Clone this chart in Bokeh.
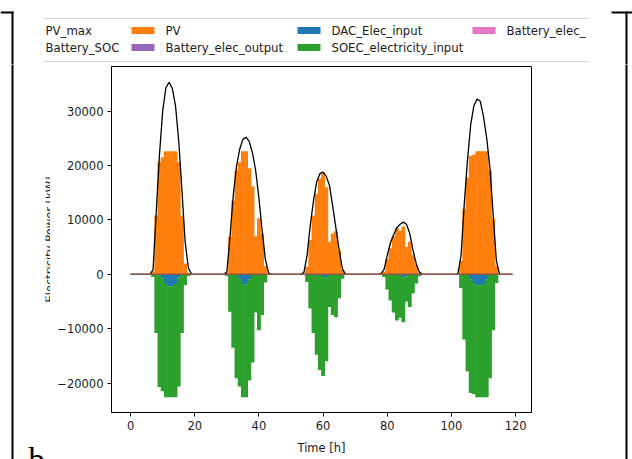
import math
import numpy as np
from bokeh.plotting import figure
from bokeh.layouts import column, row
from bokeh.models import FixedTicker, CustomJSTickFormatter, Range1d, ColumnDataSource
from bokeh.core.properties import value
from bokeh.embed import file_html
from bokeh.resources import INLINE

# ---- hourly data, 5 days (hours 0..119), values in kW ----
hours = list(range(120))

pv_max = (
    [0, 0, 0, 0, 0, 0, 0, 800, 11500, 22000, 30000, 34300, 35300, 34200, 31000, 24500, 15500, 6000, 1200, 0, 0, 0, 0, 0]
    + [0, 0, 0, 0, 0, 0, 400, 7000, 14500, 19800, 23000, 24800, 25200, 24400, 22300, 19000, 14000, 8000, 2800, 200, 0, 0, 0, 0]
    + [0, 0, 0, 0, 0, 0, 300, 3500, 9000, 13500, 17000, 18500, 18800, 18000, 16300, 12500, 8500, 4500, 1000, 0, 0, 0, 0, 0]
    + [0, 0, 0, 0, 0, 0, 100, 900, 3500, 5800, 7300, 8600, 9200, 9600, 9200, 7500, 4500, 2000, 400, 0, 0, 0, 0, 0]
    + [0, 0, 0, 0, 0, 0, 100, 3500, 13000, 21000, 27500, 31000, 32200, 31800, 29000, 25000, 19500, 11000, 2500, 0, 0, 0, 0, 0]
)

pv = (
    [0, 0, 0, 0, 0, 0, 0, 500, 10800, 20700, 21500, 22600, 22600, 22600, 22600, 20600, 10800, 2000, 300, 0, 0, 0, 0, 0]
    + [0, 0, 0, 0, 0, 0, 300, 6900, 13500, 19100, 20600, 22600, 22600, 19500, 16200, 7000, 10300, 7500, 1500, 0, 0, 0, 0, 0]
    + [0, 0, 0, 0, 0, 0, 100, 1400, 6300, 10800, 14800, 17600, 18700, 16000, 6000, 7500, 7900, 4400, 800, 0, 0, 0, 0, 0]
    + [0, 0, 0, 0, 0, 0, 0, 500, 2800, 4800, 7000, 8500, 8000, 8800, 5000, 6000, 3500, 1700, 300, 0, 0, 0, 0, 0]
    + [0, 0, 0, 0, 0, 0, 0, 2500, 12000, 17800, 21800, 22000, 22600, 22600, 22600, 22600, 19100, 10300, 1600, 0, 0, 0, 0, 0]
)

dac_elec_input = (
    [0, 0, 0, 0, 0, 0, 0, 0, 0, 0, 800, 1800, 2200, 2200, 1800, 600, 0, 0, 0, 0, 0, 0, 0, 0]
    + [0, 0, 0, 0, 0, 0, 0, 0, 0, 0, 800, 1800, 1900, 900, 0, 0, 0, 0, 0, 0, 0, 0, 0, 0]
    + [0, 0, 0, 0, 0, 0, 0, 0, 0, 0, 0, 0, 300, 700, 0, 0, 0, 0, 0, 0, 0, 0, 0, 0]
    + [0, 0, 0, 0, 0, 0, 0, 0, 0, 0, 0, 0, 0, 600, 400, 0, 0, 0, 0, 0, 0, 0, 0, 0]
    + [0, 0, 0, 0, 0, 0, 0, 0, 0, 0, 900, 1600, 2000, 2000, 1800, 1000, 0, 0, 0, 0, 0, 0, 0, 0]
)

soec_elec_input = (
    [0, 0, 0, 0, 0, 0, 0, 500, 10800, 20700, 20700, 20800, 20400, 20400, 20800, 20000, 10800, 2000, 300, 0, 0, 0, 0, 0]
    + [0, 0, 0, 0, 0, 0, 300, 6900, 13500, 19100, 19800, 20800, 20700, 18600, 16200, 7000, 10300, 7500, 1500, 0, 0, 0, 0, 0]
    + [0, 0, 0, 0, 0, 0, 100, 1400, 6300, 10800, 14800, 17600, 18400, 15300, 6000, 7500, 7900, 4400, 800, 0, 0, 0, 0, 0]
    + [0, 0, 0, 0, 0, 0, 0, 500, 2800, 4800, 7000, 8500, 8000, 8200, 4600, 6000, 3500, 1700, 300, 0, 0, 0, 0, 0]
    + [0, 0, 0, 0, 0, 0, 0, 2500, 12000, 17800, 20900, 20400, 20600, 20600, 20800, 21600, 19100, 10300, 1600, 0, 0, 0, 0, 0]
)

battery_elec_input = [0] * 120
battery_elec_output = [0] * 120
battery_soc = [0] * 120

y_ticks = [-20000, -10000, 0, 10000, 20000, 30000]
x_ticks = [0, 20, 40, 60, 80, 100, 120]

legend_labels = ["PV_max", "Battery_SOC", "PV", "Battery_elec_output",
                 "DAC_Elec_input", "SOEC_electricity_input", "Battery_elec_"]

ORANGE, BLUE, GREEN = "#ff7f0e", "#1f77b4", "#2ca02c"
PURPLE, PINK, BROWN = "#9467bd", "#e377c2", "#8c564b"
TXT = "#1c1c1c"
FONT = "DejaVu Sans"

# page geometry (pixels): legend strip on top, then margin | chart | margin
W, H = 632, 459
TOP_H = 64
LEFT_W, RIGHT_W = 50, 12
MAIN_W = W - LEFT_W - RIGHT_W
ROW_H = H - TOP_H
F_LEFT, F_RIGHT, F_TOP, F_BOTTOM = 111, 531, 66, 412   # chart frame on the page


def no_frame_align(f):
    # keep each figure's own frame instead of lining frames up across the layout
    try:
        f.frame_align = False
    except AttributeError:
        pass


def pixel_fig(x_lo, x_hi, y_lo, y_hi):
    """A blank figure whose data units are page pixels (y grows downwards)."""
    f = figure(width=x_hi - x_lo, height=y_hi - y_lo, output_backend="svg",
               toolbar_location=None, x_range=Range1d(x_lo, x_hi),
               y_range=Range1d(y_hi, y_lo), x_axis_type=None, y_axis_type=None,
               min_border=0, min_border_left=0, min_border_right=0,
               min_border_top=0, min_border_bottom=0, title=None)
    f.outline_line_color = None
    f.background_fill_color = "white"
    f.border_fill_color = "white"
    f.grid.visible = False
    no_frame_align(f)
    return f


# ---------------- main chart ----------------
dac = np.array(dac_elec_input, dtype=float)
soec = np.array(soec_elec_input, dtype=float)
src = ColumnDataSource(dict(
    t=hours,
    pv=pv,
    dac_top=np.zeros(120), dac_bot=-dac,
    soec_top=-dac, soec_bot=-dac - soec,
    bat_in_top=-dac - soec, bat_in_bot=-dac - soec - np.array(battery_elec_input),
    bat_out=battery_elec_output,
    pv_max=pv_max, soc=battery_soc,
))

p = figure(width=MAIN_W, height=ROW_H, output_backend="svg", toolbar_location=None,
           x_range=Range1d(-5.95, 124.95), y_range=Range1d(-25400, 38200),
           min_border_left=F_LEFT - LEFT_W, min_border_right=LEFT_W + MAIN_W - F_RIGHT,
           min_border_top=F_TOP - TOP_H, min_border_bottom=H - F_BOTTOM, title=None)
no_frame_align(p)
p.background_fill_color = "white"
p.border_fill_color = "white"
p.outline_line_color = "black"
p.outline_line_width = 1
p.xgrid.visible = False
p.ygrid.visible = False

BW = 1.2
p.vbar(x="t", width=BW, bottom=0, top="pv", source=src, fill_color=ORANGE, line_color=None)
p.vbar(x="t", width=BW, bottom="bat_out", top="bat_out", source=src, fill_color=PURPLE, line_color=None)
p.vbar(x="t", width=BW, bottom="dac_bot", top="dac_top", source=src, fill_color=BLUE, line_color=None)
p.vbar(x="t", width=BW, bottom="soec_bot", top="soec_top", source=src, fill_color=GREEN, line_color=None)
p.vbar(x="t", width=BW, bottom="bat_in_bot", top="bat_in_top", source=src, fill_color=PINK, line_color=None)
p.line(x="t", y="pv_max", source=src, line_color="black", line_width=1.3)
p.line(x="t", y="soc", source=src, line_color=BROWN, line_width=1.6)

for ax in (p.xaxis[0], p.yaxis[0]):
    ax.axis_line_color = "black"
    ax.major_tick_line_color = "black"
    ax.major_tick_in = 0
    ax.major_tick_out = 4
    ax.minor_tick_in = 0
    ax.minor_tick_out = 0
    ax.major_label_text_font = FONT
    ax.major_label_text_font_size = "11.5px"
    ax.major_label_text_color = TXT
    ax.major_label_standoff = 4

p.xaxis.ticker = FixedTicker(ticks=x_ticks)
p.yaxis.ticker = FixedTicker(ticks=y_ticks)
p.yaxis.formatter = CustomJSTickFormatter(
    code="return tick < 0 ? '\\u2212' + Math.abs(tick) : String(tick);")
p.xaxis.axis_label = "Time [h]"
p.xaxis.axis_label_text_font = FONT
p.xaxis.axis_label_text_font_size = "11.5px"
p.xaxis.axis_label_text_font_style = "normal"
p.xaxis.axis_label_text_color = TXT
p.xaxis.axis_label_standoff = 8

# ---------------- legend strip ----------------
top = pixel_fig(0, W, 0, TOP_H)
# legend frame edges (the legend box is wider than the visible page area)
top.segment(x0=[43.5, 43.5], x1=[588, 588], y0=[18, 61], y1=[18, 61],
            line_color="#d2d2d2", line_width=1)
sw_x = [131, 131, 297, 297, 472]
sw_y = [30, 47, 30, 47, 30]
top.quad(left=sw_x, right=[x + 23 for x in sw_x],
         top=[y - 3.5 for y in sw_y], bottom=[y + 3.5 for y in sw_y],
         fill_color=[ORANGE, PURPLE, BLUE, GREEN, PINK], line_color=None)
top.text(x=[45, 45, 165, 165, 331, 331, 506], y=[30, 47, 30, 47, 30, 47, 30],
         text=legend_labels, text_font=value(FONT), text_font_size="11.7px",
         text_align="left", text_baseline="middle", text_color=TXT)
# table cell borders
top.quad(left=[11, 625, 0, 611], right=[13, 627, 13, 632],
         top=[11, 11, 11, 11], bottom=[TOP_H + 6, TOP_H + 6, 13, 13],
         fill_color="black", line_color=None)

# ---------------- left margin ----------------
left = pixel_fig(0, LEFT_W, TOP_H, H)
left.text(x=[49], y=[239], text=["Electricity Power [kW]"], angle=math.pi / 2,
          text_font=value(FONT), text_font_size="11.5px", text_align="center",
          text_baseline="alphabetic", text_color=TXT)
# the page margin hides the upper half of the rotated title
left.quad(left=[13], right=[45], top=[130], bottom=[350],
          fill_color="white", line_color=None)
left.quad(left=[11], right=[13], top=[TOP_H - 6], bottom=[H],
          fill_color="black", line_color=None)
left.text(x=[28], y=[459], text=["b"], text_font=value("Liberation Serif"),
          text_font_size="33px", text_align="left", text_baseline="alphabetic",
          text_color="black")

# ---------------- right margin ----------------
right = pixel_fig(W - RIGHT_W, W, TOP_H, H)
right.quad(left=[625], right=[627], top=[TOP_H - 6], bottom=[H],
           fill_color="black", line_color=None)

layout = column(top, row(left, p, right, spacing=0), spacing=0)
open("out.html", "w").write(file_html(layout, INLINE))
